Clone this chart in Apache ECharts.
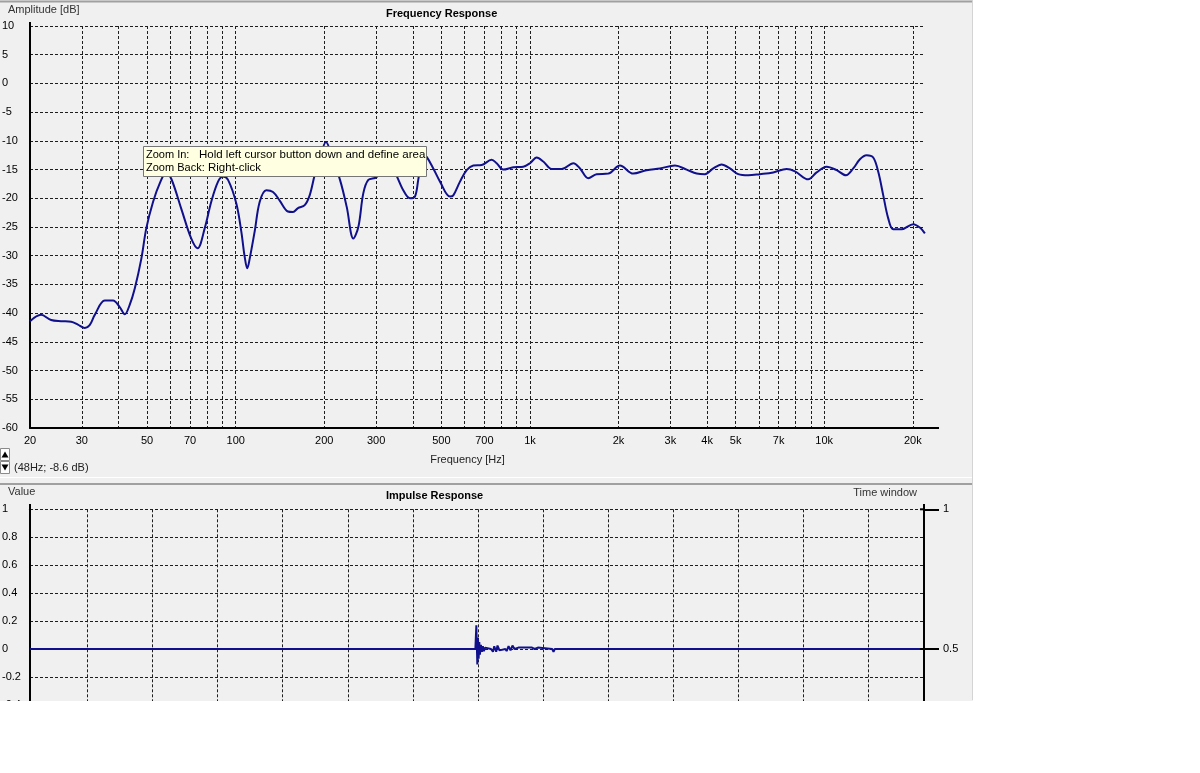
<!DOCTYPE html>
<html><head><meta charset="utf-8">
<script src="https://cdn.jsdelivr.net/npm/echarts@6/dist/echarts.min.js"></script>
<style>html,body{margin:0;padding:0;background:#fff;}#c{width:1200px;height:773px;}</style>
</head><body><div id="c"></div>
<script>
// ---- Frequency response (Hz, dB) ----
const freqHz = [20, 21.8, 23.6, 25.5, 27.6, 29.1, 30.7, 31.9, 33.2, 35.9, 38.3, 40.3, 42.0, 43.6, 45.4, 47.8, 49.7, 52.4, 55.2, 58.0,
  60.4, 65.3, 70.6, 74.2, 78.5, 82.6, 87.1, 90.5, 94.2, 100.5, 104.5, 107.3, 109.5, 111.6, 116.0, 120.7, 127.1, 133.9, 141.1, 150.5,
  156.6, 162.8, 171.6, 178.4, 185.5, 193.4, 202.7, 214.1, 226.2, 238.4, 251.1, 261.1, 271.5, 282.3, 301.4, 329.2, 352.4, 370.2, 391.1, 406.6,
  417.2, 433, 445.6, 469.4, 494.7, 534.8, 548.8, 578.4, 609.5, 641.8, 685.2, 741, 770.6, 811.4, 877.4, 949, 1000, 1054, 1110, 1185,
  1282, 1404, 1479, 1578, 1685, 1845, 2022, 2244, 2492, 2765, 3110, 3408, 3686, 3933, 4196, 4481, 4781, 5102, 5518, 6046,
  6710, 7452, 7952, 8823, 9422, 10190, 11020, 11850, 12550, 13220, 13930, 14670, 15260, 15870, 16500, 17160, 18320, 20070, 21140, 21980];
const ampDb = [-41.4, -40.3, -41.2, -41.4, -41.5, -42.0, -42.6, -42.1, -40.3, -37.8, -37.8, -38.9, -40.2, -38.6, -35.7, -30.5, -25.2, -20.6, -17.4, -15.6,
  -16.6, -21.8, -27.0, -28.7, -25.2, -20.6, -17.1, -16.2, -16.8, -20.9, -25.8, -30.2, -32.2, -30.5, -25.8, -20.6, -18.6, -18.9, -20.4, -22.3,
  -22.4, -21.7, -21.2, -19.5, -16.0, -13.0, -10.2, -13.5, -16.8, -21.5, -27.0, -25.0, -19.1, -16.8, -16.3, -13.0, -16.1, -18.5, -20.0, -19.7,
  -16.8, -12.3, -12.8, -14.8, -17.1, -19.7, -19.5, -17.1, -15.1, -14.3, -14.2, -13.3, -13.9, -15.0, -14.6, -14.5, -13.9, -12.9, -13.6, -14.9,
  -14.9, -13.9, -14.8, -16.5, -15.8, -15.7, -14.3, -15.7, -15.1, -14.8, -14.3, -15.0, -15.7, -15.8, -14.8, -14.1, -14.8, -15.8, -16.0, -15.8,
  -15.5, -14.9, -15.3, -16.7, -15.5, -14.5, -15.1, -16.0, -14.8, -13.2, -12.5, -12.9, -15.4, -19.5, -23.5, -25.4, -25.4, -24.5, -25.1, -26.1];
const freqLabelTicks = [20, 30, 50, 70, 100, 200, 300, 500, 700, 1000, 2000, 3000, 4000, 5000, 7000, 10000, 20000];
const freqGridTicks = [20, 30, 40, 50, 60, 70, 80, 90, 100, 200, 300, 400, 500, 600, 700, 800, 900,
  1000, 2000, 3000, 4000, 5000, 6000, 7000, 8000, 9000, 10000, 20000];

// ---- Impulse response (time in grid units, value) ----
const impTime = [-0.88, 5.96, 5.975, 5.99, 6.0, 6.01, 6.02, 6.03, 6.045, 6.06, 6.075, 6.09, 6.11, 6.14, 6.2, 6.23, 6.25, 6.28, 6.3, 6.33,
  6.36, 6.42, 6.44, 6.47, 6.5, 6.53, 6.56, 6.62, 6.65, 6.83, 6.87, 6.92, 6.95, 7.14, 7.16, 7.18, 12.85];
const impValue = [0, 0, 0.17, -0.11, 0.08, -0.07, 0.05, -0.04, 0.03, -0.02, 0.02, -0.015, 0.01, 0, 0, -0.02, 0.02, -0.02, 0.025, -0.01,
  0, 0, -0.015, 0.02, -0.01, 0.025, 0, 0.01, 0, 0.01, 0, 0.01, 0, 0, -0.02, 0, 0];
const impGridTicks = [0, 1, 2, 3, 4, 5, 6, 7, 8, 9, 10, 11, 12];
const windowTicks = [0.5, 1];

const FONT = '"Liberation Sans", Arial, sans-serif';
const NAVY = '#10108c';
const gridStyle = { color: '#1e1e1e', width: 1, type: [3, 2] };
const chart = echarts.init(document.getElementById('c'), null, { renderer: 'canvas' });

const option = {
  animation: false,
  backgroundColor: '#f0f0f0',
  textStyle: { fontFamily: FONT },
  title: [
    { text: 'Frequency Response', left: 386, top: 8, padding: 0,
      textStyle: { fontSize: 11, fontWeight: 'bold', color: '#000', fontFamily: FONT } },
    { text: 'Impulse Response', left: 386, top: 490, padding: 0,
      textStyle: { fontSize: 11, fontWeight: 'bold', color: '#000', fontFamily: FONT } }
  ],
  grid: [
    { left: 30, top: 26, width: 895, height: 402, outerBoundsMode: 'none', containLabel: false },
    { left: 30, top: 509.3, width: 894, height: 279.4, outerBoundsMode: 'none', containLabel: false }
  ],
  xAxis: [
    { type: 'log', logBase: 10, gridIndex: 0, min: 20, max: 22000,
      axisLine: { onZero: false, lineStyle: { color: '#000', width: 2 } },
      axisTick: { show: true, length: 0, customValues: freqGridTicks },
      axisLabel: { customValues: freqLabelTicks, color: '#000', fontSize: 11, margin: 7, fontFamily: FONT,
        formatter: v => v >= 1000 ? (v / 1000) + 'k' : String(v) },
      splitLine: { show: true, lineStyle: gridStyle },
      name: 'Frequency [Hz]', nameLocation: 'middle', nameGap: 26,
      nameTextStyle: { color: '#222', fontSize: 11, fontFamily: FONT, padding: [0, 20, 0, 0] } },
    { type: 'value', gridIndex: 1, min: -0.88, max: 12.85,
      axisLine: { show: false, onZero: false },
      axisTick: { show: true, length: 0, customValues: impGridTicks },
      axisLabel: { show: false },
      splitLine: { show: true, lineStyle: gridStyle } }
  ],
  yAxis: [
    { type: 'value', gridIndex: 0, min: -60, max: 10, interval: 5,
      axisLine: { show: true, onZero: false, lineStyle: { color: '#000', width: 2 } },
      axisTick: { show: false },
      axisLabel: { color: '#000', fontSize: 11, align: 'left', margin: 28, fontFamily: FONT },
      splitLine: { show: true, lineStyle: gridStyle } },
    { type: 'value', gridIndex: 1, min: -1, max: 1, interval: 0.2,
      axisLine: { show: true, onZero: false, lineStyle: { color: '#000', width: 2 } },
      axisTick: { show: false },
      axisLabel: { color: '#000', fontSize: 11, align: 'left', margin: 28, fontFamily: FONT },
      splitLine: { show: true, lineStyle: gridStyle } },
    { type: 'value', gridIndex: 1, position: 'right', min: 0, max: 1,
      axisLine: { show: true, onZero: false, lineStyle: { color: '#000', width: 2 } },
      axisTick: { show: true, length: 15, customValues: windowTicks, lineStyle: { color: '#000', width: 2 } },
      axisLabel: { customValues: windowTicks, color: '#000', fontSize: 11, margin: 19, fontFamily: FONT },
      splitLine: { show: false },
      name: 'Time window', nameLocation: 'end', nameGap: 11,
      nameTextStyle: { color: '#333', fontSize: 11, fontFamily: FONT, align: 'right', padding: [0, 7, 0, 0] } }
  ],
  series: [
    { type: 'line', xAxisIndex: 0, yAxisIndex: 0, showSymbol: false, smooth: 0.35,
      data: freqHz.map((f, i) => [f, ampDb[i]]),
      lineStyle: { color: NAVY, width: 2 }, z: 3 },
    { type: 'line', xAxisIndex: 1, yAxisIndex: 1, showSymbol: false,
      data: impTime.map((t, i) => [t, impValue[i]]),
      lineStyle: { color: NAVY, width: 2 }, z: 3 }
  ],
  graphic: { elements: [
    // window frame
    { type: 'line', z: 50, shape: { x1: 0, y1: 1.5, x2: 972, y2: 1.5 }, style: { stroke: '#a0a0a0', lineWidth: 2 } },
    { type: 'line', z: 50, shape: { x1: 0, y1: 477.5, x2: 972, y2: 477.5 }, style: { stroke: '#ffffff', lineWidth: 1 } },
    { type: 'line', z: 50, shape: { x1: 0, y1: 484, x2: 972, y2: 484 }, style: { stroke: '#a0a0a0', lineWidth: 2 } },
    { type: 'line', z: 50, shape: { x1: 972.5, y1: 0, x2: 972.5, y2: 700 }, style: { stroke: '#d4d4d4', lineWidth: 1 } },
    // axis line extensions
    { type: 'line', z: 50, shape: { x1: 30, y1: 22, x2: 30, y2: 27 }, style: { stroke: '#000', lineWidth: 2 } },
    { type: 'line', z: 50, shape: { x1: 924, y1: 428, x2: 939, y2: 428 }, style: { stroke: '#000', lineWidth: 2 } },
    { type: 'line', z: 50, shape: { x1: 30, y1: 504, x2: 30, y2: 510 }, style: { stroke: '#000', lineWidth: 2 } },
    { type: 'line', z: 50, shape: { x1: 924, y1: 504, x2: 924, y2: 510 }, style: { stroke: '#000', lineWidth: 2 } },
    { type: 'line', z: 50, shape: { x1: 920, y1: 509.3, x2: 925, y2: 509.3 }, style: { stroke: '#000', lineWidth: 2 } },
    { type: 'line', z: 50, shape: { x1: 920, y1: 649, x2: 925, y2: 649 }, style: { stroke: '#000', lineWidth: 2 } },
    // axis titles / status
    { type: 'text', z: 50, style: { text: 'Amplitude [dB]', x: 8, y: 10, fill: '#333', fontSize: 11, fontFamily: FONT, verticalAlign: 'middle' } },
    { type: 'text', z: 50, style: { text: 'Value', x: 8, y: 492, fill: '#333', fontSize: 11, fontFamily: FONT, verticalAlign: 'middle' } },
    { type: 'text', z: 50, style: { text: '(48Hz; -8.6 dB)', x: 14, y: 468, fill: '#222', fontSize: 11, fontFamily: FONT, verticalAlign: 'middle' } },
    // up/down buttons
    { type: 'rect', z: 50, shape: { x: 0.5, y: 448.5, width: 9, height: 12 }, style: { fill: '#fdfdfd', stroke: '#8a8a8a', lineWidth: 1 } },
    { type: 'polygon', z: 51, shape: { points: [[1.5, 457.5], [8.5, 457.5], [5, 451.5]] }, style: { fill: '#000' } },
    { type: 'rect', z: 50, shape: { x: 0.5, y: 461.5, width: 9, height: 12 }, style: { fill: '#fdfdfd', stroke: '#8a8a8a', lineWidth: 1 } },
    { type: 'polygon', z: 51, shape: { points: [[1.5, 464.5], [8.5, 464.5], [5, 470.5]] }, style: { fill: '#000' } },
    // tooltip
    { type: 'rect', z: 60, shape: { x: 143.5, y: 146.5, width: 283, height: 30 }, style: { fill: '#ffffe1', stroke: '#767676', lineWidth: 1 } },
    { type: 'text', z: 61, style: { text: 'Zoom In:', x: 146, y: 155, fill: '#000', fontSize: 11, fontFamily: FONT, verticalAlign: 'middle' } },
    { type: 'text', z: 61, style: { text: 'Hold left cursor button down and define area', x: 199, y: 155, fill: '#000', fontSize: 11.5, fontFamily: FONT, verticalAlign: 'middle' } },
    { type: 'text', z: 61, style: { text: 'Zoom Back:', x: 146, y: 168, fill: '#000', fontSize: 11, fontFamily: FONT, verticalAlign: 'middle' } },
    { type: 'text', z: 61, style: { text: 'Right-click', x: 208, y: 168, fill: '#000', fontSize: 11.5, fontFamily: FONT, verticalAlign: 'middle' } },
    // outside-window white areas
    { type: 'rect', z: 100, shape: { x: 973, y: 0, width: 227, height: 773 }, style: { fill: '#ffffff' } },
    { type: 'rect', z: 100, shape: { x: 0, y: 701, width: 973, height: 72 }, style: { fill: '#ffffff' } }
  ] }
};
chart.setOption(option);
</script></body></html>
